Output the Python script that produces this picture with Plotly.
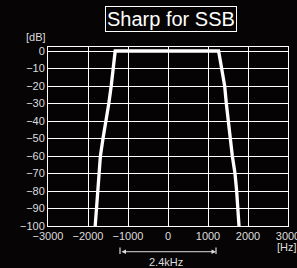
import plotly.graph_objects as go

# Filter response (Hz, dB)
freq_hz = [-1820, -1785, -1750, -1722, -1690, -1625, -1545, -1480, -1420, -1365, -1320,
           1265, 1350, 1417, 1458, 1500, 1558, 1608, 1675, 1716, 1742, 1775]
atten_db = [-100, -90, -80, -70, -60, -50, -40, -30, -20, -10, 0,
            0, -10, -20, -30, -40, -50, -60, -70, -80, -90, -100]

x_ticks = [-3000, -2000, -1000, 0, 1000, 2000, 3000]
y_ticks = [-100, -90, -80, -70, -60, -50, -40, -30, -20, -10, 0]

bw_start, bw_end = -1200, 1200
bw_label = "2.4kHz"
title_text = "Sharp for SSB"

FONT = "Liberation Sans, Arial, sans-serif"
TXT = "#dcdcdc"

fig = go.Figure()
fig.add_trace(go.Scatter(x=freq_hz, y=atten_db, mode="lines",
                         line=dict(color="white", width=3.3),
                         hoverinfo="skip", showlegend=False))

axis_common = dict(showgrid=True, gridcolor="white", gridwidth=1,
                   showline=True, linecolor="white", linewidth=1, mirror=True,
                   zeroline=False, ticks="", ticklabeloverflow="allow",
                   automargin=False,
                   tickfont=dict(family=FONT, size=11, color=TXT))

fig.update_layout(
    width=297, height=268,
    margin=dict(l=48, r=9, t=47, b=42, autoexpand=False),
    paper_bgcolor="#070405", plot_bgcolor="#060304",
    xaxis=dict(range=[-3000, 3000], tickvals=x_ticks, **axis_common),
    yaxis=dict(range=[-100, 2.3], tickvals=y_ticks, **axis_common),
    showlegend=False,
)

# Title box
fig.add_annotation(text=title_text, xref="paper", yref="paper", x=0.5125, y=1.156,
                   xanchor="center", yanchor="middle", showarrow=False,
                   font=dict(family=FONT, size=20, color="white"),
                   bordercolor="white", borderwidth=1, borderpad=1)
# Units
fig.add_annotation(text="[dB]", xref="paper", yref="paper", x=-0.05, y=1.056,
                   xanchor="center", yanchor="middle", showarrow=False,
                   font=dict(family=FONT, size=11, color=TXT))
fig.add_annotation(text="[Hz]", xref="paper", yref="paper", x=0.995, y=-0.116,
                   xanchor="center", yanchor="middle", showarrow=False,
                   font=dict(family=FONT, size=11, color=TXT))

# Bandwidth marker
arrow_y = -0.1436
fig.add_annotation(x=bw_end, y=arrow_y, xref="x", yref="paper",
                   ax=bw_start, ay=0, axref="x", ayref="pixel",
                   text="", showarrow=True, arrowside="end+start", arrowhead=2,
                   arrowsize=0.9, arrowwidth=1, arrowcolor=TXT)
for xv in (bw_start, bw_end):
    fig.add_shape(type="line", xref="x", yref="paper", x0=xv, x1=xv,
                  y0=-0.12, y1=-0.157, line=dict(color=TXT, width=1.2))
fig.add_annotation(text=bw_label, xref="x", yref="paper", x=-60, y=-0.199,
                   xanchor="center", yanchor="middle", showarrow=False,
                   font=dict(family=FONT, size=11, color=TXT))

fig.write_html("out.html",
               config={"displayModeBar": False, "staticPlot": True},
               post_script="document.body.style.margin='0';"
                           "document.body.style.overflow='hidden';"
                           "document.body.style.background='#070405';")
